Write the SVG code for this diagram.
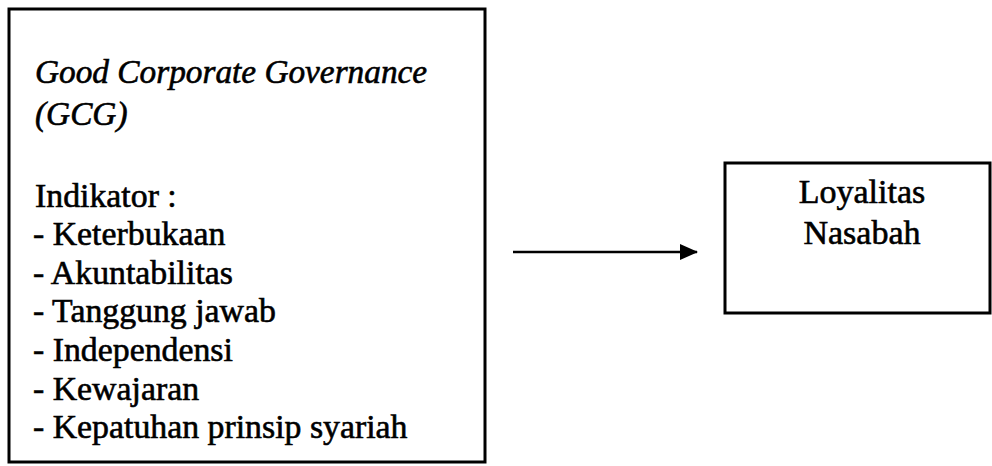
<svg xmlns="http://www.w3.org/2000/svg" width="992" height="466" viewBox="0 0 992 466">
<style>
.box{fill:none;stroke:#000;stroke-width:3}
.t{font-family:"Liberation Serif","Times New Roman",serif;font-size:33.8px;fill:#000;stroke:#000;stroke-width:0.6}
.i{font-style:italic;font-size:33.3px}
.r{font-size:34px}
</style>
<defs>
<marker id="ah" markerWidth="18" markerHeight="16" refX="17" refY="8" orient="auto" markerUnits="userSpaceOnUse">
<path d="M0,0 L18,8 L0,16 Z" fill="#000"/>
</marker>
</defs>
<rect width="992" height="466" fill="#fff"/>
<g id="gcg">
<rect class="box" x="9" y="9" width="476" height="453"/>
<text class="t i" x="35" y="83">Good Corporate Governance</text>
<text class="t i" x="35" y="125">(GCG)</text>
<text class="t" x="35" y="207">Indikator :</text>
<text class="t" x="33" y="245">- Keterbukaan</text>
<text class="t" x="33" y="284">- Akuntabilitas</text>
<text class="t" x="33" y="322">- Tanggung jawab</text>
<text class="t" x="33" y="361">- Independensi</text>
<text class="t" x="33" y="400">- Kewajaran</text>
<text class="t" x="33" y="438">- Kepatuhan prinsip syariah</text>
</g>
<g id="loyalitas">
<rect class="box" x="725" y="163" width="265" height="150"/>
<text class="t r" x="862" y="203" text-anchor="middle">Loyalitas</text>
<text class="t r" x="862" y="244" text-anchor="middle">Nasabah</text>
</g>
<g id="connectors">
<line x1="513" y1="252" x2="697" y2="252" stroke="#000" stroke-width="2.5" marker-end="url(#ah)"/>
</g>
</svg>
